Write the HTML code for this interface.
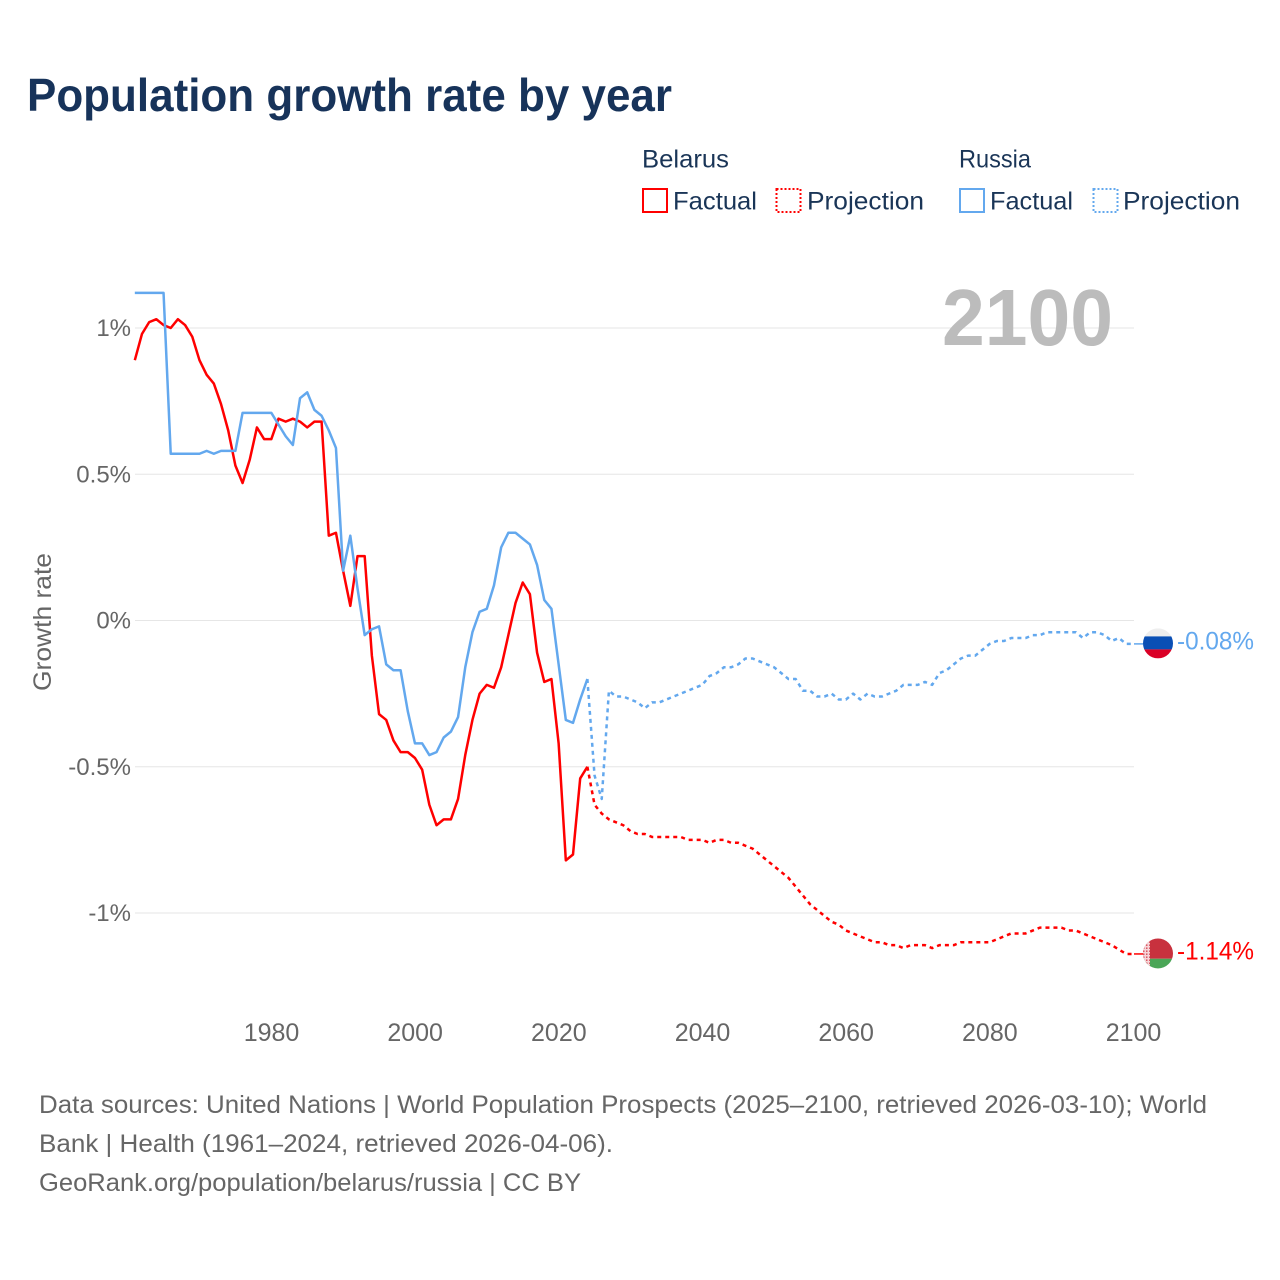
<!DOCTYPE html>
<html lang="en">
<head>
<meta charset="utf-8">
<title>Population growth rate by year</title>
<style>
html,body{margin:0;padding:0;background:#fff;width:1280px;height:1280px;overflow:hidden}
svg{display:block}
text{font-family:"Liberation Sans",sans-serif}
.tick{font-size:24px;fill:#666}
.foot{font-size:25px;fill:#666}
.leg{font-size:25px;fill:#1a3557}
</style>
</head>
<body>
<svg id="chart" xmlns="http://www.w3.org/2000/svg" width="1280" height="1280" viewBox="0 0 1280 1280">
  <defs>
    <pattern id="ornament" width="3" height="3" patternUnits="userSpaceOnUse">
      <rect width="3" height="3" fill="#f6d5d8"/>
      <rect width="1.5" height="1.5" fill="#d9535f"/>
    </pattern>
  </defs>
  <rect width="1280" height="1280" fill="#fff"/>
  <text x="27" y="111" font-size="46" font-weight="700" fill="#17335a" textLength="645" lengthAdjust="spacingAndGlyphs">Population growth rate by year</text>

  <g>
    <text class="leg" x="642" y="167.5" textLength="87" lengthAdjust="spacingAndGlyphs">Belarus</text>
    <text class="leg" x="959" y="167.5" textLength="72" lengthAdjust="spacingAndGlyphs">Russia</text>
    <g>
      <rect x="643" y="189" width="24" height="23" fill="#fff" stroke="#ff0000" stroke-width="2"/>
      <text class="leg" x="673" y="209.5" textLength="84" lengthAdjust="spacingAndGlyphs">Factual</text>
    </g>
    <g>
      <rect x="776.5" y="189" width="24" height="23" fill="#fff" stroke="#ff0000" stroke-width="2" stroke-dasharray="2 2"/>
      <text class="leg" x="807" y="209.5" textLength="117" lengthAdjust="spacingAndGlyphs">Projection</text>
    </g>
    <g>
      <rect x="960" y="189" width="24" height="23" fill="#fff" stroke="#63a8ee" stroke-width="2"/>
      <text class="leg" x="990" y="209.5" textLength="83" lengthAdjust="spacingAndGlyphs">Factual</text>
    </g>
    <g>
      <rect x="1093.5" y="189" width="24" height="23" fill="#fff" stroke="#63a8ee" stroke-width="2" stroke-dasharray="2 2"/>
      <text class="leg" x="1123" y="209.5" textLength="117" lengthAdjust="spacingAndGlyphs">Projection</text>
    </g>
  </g>

  <g id="grid"></g>
  <text x="1113" y="345" text-anchor="end" font-size="80" font-weight="700" fill="#bcbcbc" textLength="171" lengthAdjust="spacingAndGlyphs">2100</text>
  <g id="yticks"></g>
  <g id="xticks"></g>
  <text transform="translate(51 622) rotate(-90)" text-anchor="middle" font-size="25" fill="#666" textLength="138" lengthAdjust="spacingAndGlyphs">Growth rate</text>
  <g id="series"></g>
  <g id="endcaps"></g>

  <g>
    <text class="foot" x="39" y="1113" textLength="1168" lengthAdjust="spacingAndGlyphs">Data sources: United Nations | World Population Prospects (2025–2100, retrieved 2026-03-10); World</text>
    <text class="foot" x="39" y="1152" textLength="574" lengthAdjust="spacingAndGlyphs">Bank | Health (1961–2024, retrieved 2026-04-06).</text>
    <text class="foot" x="39" y="1191" textLength="542" lengthAdjust="spacingAndGlyphs">GeoRank.org/population/belarus/russia | CC BY</text>
  </g>
</svg>
<script>
const factualStartYear = 1961;
const projectionStartYear = 2024;
const xTickYears = [1980, 2000, 2020, 2040, 2060, 2080, 2100];
const yTickValues = [1, 0.5, 0, -0.5, -1];
const yTickLabels = ['1%', '0.5%', '0%', '-0.5%', '-1%'];

const belarusFactual = [
  0.89,0.98,1.02,1.03,1.01,1.00,1.03,1.01,0.97,0.89,
  0.84,0.81,0.74,0.65,0.53,0.47,0.55,0.66,0.62,0.62,
  0.69,0.68,0.69,0.68,0.66,0.68,0.68,0.29,0.30,0.17,
  0.05,0.22,0.22,-0.12,-0.32,-0.34,-0.41,-0.45,-0.45,-0.47,
  -0.51,-0.63,-0.70,-0.68,-0.68,-0.61,-0.46,-0.34,-0.25,-0.22,
  -0.23,-0.16,-0.05,0.06,0.13,0.09,-0.11,-0.21,-0.20,-0.42,
  -0.82,-0.80,-0.54,-0.50
];
const russiaFactual = [
  1.12,1.12,1.12,1.12,1.12,0.57,0.57,0.57,0.57,0.57,
  0.58,0.57,0.58,0.58,0.58,0.71,0.71,0.71,0.71,0.71,
  0.67,0.63,0.60,0.76,0.78,0.72,0.70,0.65,0.59,0.17,
  0.29,0.11,-0.05,-0.03,-0.02,-0.15,-0.17,-0.17,-0.31,-0.42,
  -0.42,-0.46,-0.45,-0.40,-0.38,-0.33,-0.16,-0.04,0.03,0.04,
  0.12,0.25,0.30,0.30,0.28,0.26,0.19,0.07,0.04,-0.15,
  -0.34,-0.35,-0.27,-0.20
];
const belarusProjection = [
  -0.50,-0.63,-0.66,-0.68,-0.69,-0.70,-0.72,-0.73,-0.73,-0.74,
  -0.74,-0.74,-0.74,-0.74,-0.75,-0.75,-0.75,-0.76,-0.75,-0.75,
  -0.76,-0.76,-0.77,-0.78,-0.80,-0.82,-0.84,-0.86,-0.88,-0.91,
  -0.94,-0.97,-0.99,-1.01,-1.03,-1.04,-1.06,-1.07,-1.08,-1.09,
  -1.10,-1.10,-1.11,-1.11,-1.12,-1.11,-1.11,-1.11,-1.12,-1.11,
  -1.11,-1.11,-1.10,-1.10,-1.10,-1.10,-1.10,-1.09,-1.08,-1.07,
  -1.07,-1.07,-1.06,-1.05,-1.05,-1.05,-1.05,-1.06,-1.06,-1.07,
  -1.08,-1.09,-1.10,-1.11,-1.125,-1.14,-1.14
];
const russiaProjection = [
  -0.20,-0.53,-0.61,-0.24,-0.26,-0.26,-0.27,-0.28,-0.30,-0.28,
  -0.28,-0.27,-0.26,-0.25,-0.24,-0.23,-0.22,-0.19,-0.18,-0.16,
  -0.16,-0.15,-0.13,-0.13,-0.14,-0.15,-0.16,-0.18,-0.20,-0.20,
  -0.24,-0.24,-0.26,-0.26,-0.25,-0.27,-0.27,-0.25,-0.27,-0.25,
  -0.26,-0.26,-0.25,-0.24,-0.22,-0.22,-0.22,-0.21,-0.22,-0.18,
  -0.17,-0.15,-0.13,-0.12,-0.12,-0.10,-0.08,-0.07,-0.07,-0.06,
  -0.06,-0.06,-0.05,-0.05,-0.04,-0.04,-0.04,-0.04,-0.04,-0.06,
  -0.04,-0.04,-0.05,-0.07,-0.06,-0.08,-0.08
];

const SVG_NS = 'http://www.w3.org/2000/svg';
const RED = '#ff0000';
const BLUE = '#63a8ee';
function xScale(year) { return 271.3 + (year - 1980) * (862 / 120); }
function yScale(value) { return 620.5 - value * 292.5; }
function make(tag, attrs) {
  const el = document.createElementNS(SVG_NS, tag);
  Object.keys(attrs).forEach(function (k) { el.setAttribute(k, attrs[k]); });
  return el;
}
function pointsFor(values, startYear) {
  return values.map(function (v, i) {
    return xScale(startYear + i).toFixed(2) + ',' + yScale(v).toFixed(2);
  }).join(' ');
}

const grid = document.getElementById('grid');
const yticks = document.getElementById('yticks');
yTickValues.forEach(function (v, i) {
  const line = make('line', { x1: 135, x2: 1134, y1: yScale(v), y2: yScale(v), stroke: '#e6e6e6', 'stroke-width': 1 });
  
  
  grid.appendChild(line);
  const t = make('text', { x: 131, y: yScale(v) + 8, 'text-anchor': 'end', class: 'tick' });
  
  
  t.textContent = yTickLabels[i];
  yticks.appendChild(t);
});

const xticks = document.getElementById('xticks');
xTickYears.forEach(function (yr) {
  const t = make('text', { x: xScale(yr) + 0.2, y: 1041, 'text-anchor': 'middle', class: 'tick', style: 'font-size:25px' });
  
  
  t.textContent = String(yr);
  xticks.appendChild(t);
});

const seriesGroup = document.getElementById('series');

const belarusProjLine = make('polyline', { points: pointsFor(belarusProjection, projectionStartYear), fill: 'none', stroke: RED, 'stroke-width': 2.5, 'stroke-dasharray': '4 4', 'stroke-linejoin': 'round' });


seriesGroup.appendChild(belarusProjLine);

const russiaProjLine = make('polyline', { points: pointsFor(russiaProjection, projectionStartYear), fill: 'none', stroke: BLUE, 'stroke-width': 2.5, 'stroke-dasharray': '4 4', 'stroke-linejoin': 'round' });


seriesGroup.appendChild(russiaProjLine);

const belarusFactLine = make('polyline', { points: pointsFor(belarusFactual, factualStartYear), fill: 'none', stroke: RED, 'stroke-width': 2.5, 'stroke-linejoin': 'round' });


seriesGroup.appendChild(belarusFactLine);

const russiaFactLine = make('polyline', { points: pointsFor(russiaFactual, factualStartYear), fill: 'none', stroke: BLUE, 'stroke-width': 2.5, 'stroke-linejoin': 'round' });


seriesGroup.appendChild(russiaFactLine);

const endcaps = document.getElementById('endcaps');
function flagDefs(id, parent) {
  const clip = make('clipPath', { id: id });
  clip.appendChild(make('circle', { cx: 0, cy: 0, r: 15 }));
  parent.appendChild(clip);
}
function endCap(name, values, color, stripes) {
  const last = values[values.length - 1];
  const y = yScale(last);
  const stub = make('line', { x1: 1134, x2: 1143, y1: y, y2: y, stroke: color, 'stroke-width': 1.5 });
  
  
  endcaps.appendChild(stub);
  const g = make('g', { transform: 'translate(1158 ' + (y - 0.5).toFixed(2) + ')' });
  
  
  flagDefs(name + '-clip', g);
  const inner = make('g', { 'clip-path': 'url(#' + name + '-clip)' });
  stripes.forEach(function (s) {
    inner.appendChild(make('rect', { x: s[0], y: s[1], width: s[2], height: s[3], fill: s[4] }));
  });
  g.appendChild(inner);
  endcaps.appendChild(g);
  const label = make('text', { x: 1177, y: y + 5.5, 'font-size': 25, fill: color, textLength: 77, lengthAdjust: 'spacingAndGlyphs' });
  
  
  label.textContent = last.toFixed(2) + '%';
  endcaps.appendChild(label);
}
endCap('russia', russiaProjection, BLUE, [
  [-15, -15, 30, 8, '#eeeeee'],
  [-15, -7, 30, 13, '#0a4fb5'],
  [-15, 6, 30, 9, '#da0026']
]);
endCap('belarus', belarusProjection, RED, [
  [-15, -15, 30, 20.3, '#c8313e'],
  [-15, 5.3, 30, 9.7, '#4aa657'],
  [-15, -15, 7, 30, 'url(#ornament)']
]);
</script>
</body>
</html>
